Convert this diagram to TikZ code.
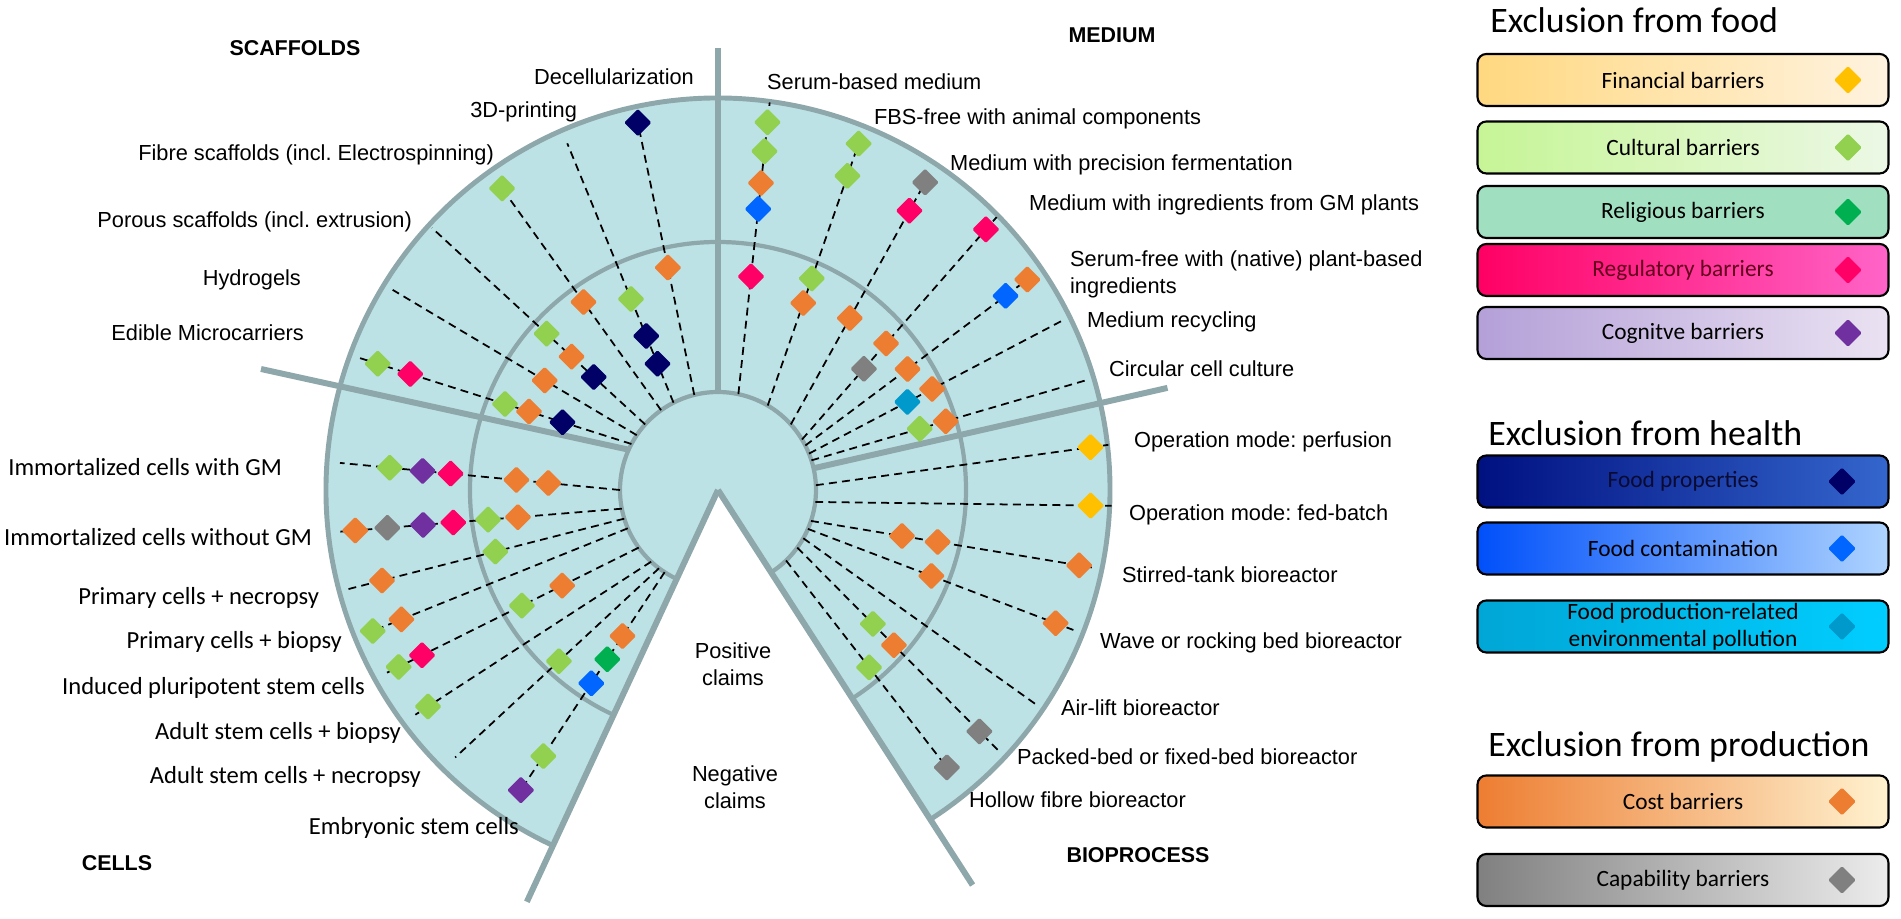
\documentclass[tikz,border=0pt]{standalone}
\usepackage{fontspec}
\setmainfont{Liberation Sans}
\newfontfamily\calibri{Carlito}
\usetikzlibrary{shapes.geometric}
\frenchspacing

\definecolor{wheelfill}{RGB}{188,226,230}
\definecolor{wheelline}{RGB}{141,167,171}
\definecolor{corange}{RGB}{237,125,49}
\definecolor{cgreen}{RGB}{146,208,80}
\definecolor{cyellow}{RGB}{255,192,0}
\definecolor{cpink}{RGB}{255,0,102}
\definecolor{cpurple}{RGB}{112,48,160}
\definecolor{cnavy}{RGB}{0,0,102}
\definecolor{cblue}{RGB}{0,102,255}
\definecolor{ccyan}{RGB}{0,153,204}
\definecolor{cgrey}{RGB}{128,128,128}
\definecolor{cdkgreen}{RGB}{0,176,80}

\tikzset{
  dia/.style={diamond, minimum size=5.6mm, inner sep=0pt, rounded corners=0.8pt},
  spoke/.style={line width=1pt, dash pattern=on 4.5pt off 3pt},
  divider/.style={wheelline, line width=3.4pt},
  ring/.style={wheelline, line width=2.4pt},
  lab/.style={font=\fontsize{12.4}{15.3}\selectfont, inner sep=1pt},
  celllab/.style={font=\calibri\fontsize{14}{17}\selectfont, inner sep=1pt, anchor=east},
  head/.style={font=\bfseries\fontsize{12.2}{15}\selectfont},
  legtitle/.style={font=\calibri\fontsize{20.4}{24}\selectfont, anchor=base west, inner sep=0pt},
  legbox/.style={draw=black, line width=1.2pt, rounded corners=5pt, minimum width=8.22cm,
    minimum height=1.04cm, font=\calibri\fontsize{13.3}{15.5}\selectfont, align=center}
}

\begin{document}
\begin{tikzpicture}[x=0.02cm, y=0.02cm]
\useasboundingbox (-718,-429) rectangle (1183,490);

% wheel
\fill[wheelfill] (0,0) circle[radius=392];
\fill[white] (0,0) -- (245.1:520) -- (302.8:520) -- cycle;
\draw[ring] (302.8:98) arc[start angle=302.8, end angle=605.1, radius=98];
\draw[ring] (302.8:248) arc[start angle=302.8, end angle=605.1, radius=248];
\draw[ring, line width=2.8pt] (302.8:392) arc[start angle=302.8, end angle=605.1, radius=392];
\draw[divider] (0,0) -- (245.1:454);
\draw[divider] (0,0) -- (302.8:470);
\draw[divider] (90:98) -- (90:442);
\draw[divider] (12.8:98) -- (12.8:461);
\draw[divider] (-88,40) -- (-457,121);

% scaffolds
\draw[spoke] (104:98) -- (102.3:382)
  node[dia, fill=corange, pos=0.458] (sc1a) {}
  node[dia, fill=cnavy, pos=0.979] (sc1b) {};
\draw[spoke] (117:98) -- (113.5:378)
  node[dia, fill=cnavy, pos=0.15] (sc2a) {}
  node[dia, fill=cnavy, pos=0.257] (sc2b) {}
  node[dia, fill=cgreen, pos=0.40] (sc2c) {};
\draw[spoke] (125.5:98) -- (125.6:380)
  node[dia, fill=corange, pos=0.472] (sc3a) {}
  node[dia, fill=cgreen, pos=0.968] (sc3b) {};
\draw[spoke] (138:98) -- (137.5:388)
  node[dia, fill=cnavy, pos=0.241] (sc4a) {}
  node[dia, fill=corange, pos=0.345] (sc4b) {}
  node[dia, fill=cgreen, pos=0.462] (sc4c) {};
\draw[spoke] (146:98) -- (148.4:382)
  node[dia, fill=corange, pos=0.377] (sc5a) {};
\draw[spoke] (152:98) -- (159.8:385)
  node[dia, fill=cnavy, pos=0.251] (sc6a) {}
  node[dia, fill=corange, pos=0.373] (sc6b) {}
  node[dia, fill=cgreen, pos=0.46] (sc6c) {}
  node[dia, fill=cpink, pos=0.805] (sc6d) {}
  node[dia, fill=cgreen, pos=0.923] (sc6e) {};

% medium
\draw[spoke] (78:98) -- (82.4:391)
  node[dia, fill=cpink, pos=0.403] (mA1) {}
  node[dia, fill=cblue, pos=0.635] (mA2) {}
  node[dia, fill=corange, pos=0.724] (mA3) {}
  node[dia, fill=cgreen, pos=0.833] (mA4) {}
  node[dia, fill=cgreen, pos=0.932] (mA5) {};
\draw[spoke] (59.5:98) -- (68:386)
  node[dia, fill=corange, pos=0.375] (mB1) {}
  node[dia, fill=cgreen, pos=0.465] (mB2) {}
  node[dia, fill=cgreen, pos=0.840] (mB3) {}
  node[dia, fill=cgreen, pos=0.958] (mB4) {};
\draw[spoke] (42:98) -- (56.2:383)
  node[dia, fill=corange, pos=0.421] (mC1) {}
  node[dia, fill=cpink, pos=0.846] (mC2) {}
  node[dia, fill=cgrey, pos=0.958] (mC3) {};
\draw[spoke] (31:98) -- (44.4:390)
  node[dia, fill=cgrey, pos=0.318] (mD1) {}
  node[dia, fill=corange, pos=0.432] (mD2) {}
  node[dia, fill=cpink, pos=0.945] (mD3) {};
\draw[spoke] (27:98) -- (34.3:385)
  node[dia, fill=corange, pos=0.443] (mE1) {}
  node[dia, fill=cblue, pos=0.868] (mE2) {}
  node[dia, fill=corange, pos=0.962] (mE3) {};
\draw[spoke] (21.8:98) -- (26.2:385)
  node[dia, fill=ccyan, pos=0.387] (mF1) {}
  node[dia, fill=corange, pos=0.484] (mF2) {};
\draw[spoke] (17.6:98) -- (16.6:386)
  node[dia, fill=cgreen, pos=0.392] (mG1) {}
  node[dia, fill=corange, pos=0.486] (mG2) {};

% bioprocess
\draw[spoke] (2.8:98) -- (6.6:393)
  node[dia, fill=cyellow, pos=0.939] (b1a) {};
\draw[spoke] (-7:98) -- (-2.3:394)
  node[dia, fill=cyellow, pos=0.929] (b2a) {};
\draw[spoke] (-18.4:98) -- (-11.7:383)
  node[dia, fill=corange, pos=0.323] (b3a) {}
  node[dia, fill=corange, pos=0.449] (b3b) {}
  node[dia, fill=corange, pos=0.951] (b3c) {};
\draw[spoke] (-23.4:98) -- (-21.5:382)
  node[dia, fill=corange, pos=0.465] (b4a) {}
  node[dia, fill=corange, pos=0.933] (b4b) {};
\draw[spoke] (-29.5:98) -- (-34:385);
\draw[spoke] (-36:98) -- (-42.9:382)
  node[dia, fill=cgreen, pos=0.377] (b6a) {}
  node[dia, fill=corange, pos=0.482] (b6b) {}
  node[dia, fill=cgrey, pos=0.908] (b6c) {};
\draw[spoke] (-46:98) -- (-50.5:365)
  node[dia, fill=cgreen, pos=0.506] (b7a) {}
  node[dia, fill=cgrey, pos=0.98] (b7b) {};

% cells
\draw[spoke] (180:98) -- (175.9:379)
  node[dia, fill=corange, pos=0.256] (c1a) {}
  node[dia, fill=corange, pos=0.370] (c1b) {}
  node[dia, fill=cpink, pos=0.605] (c1c) {}
  node[dia, fill=cpurple, pos=0.705] (c1d) {}
  node[dia, fill=cgreen, pos=0.822] (c1e) {};
\draw[spoke] (191:98) -- (186.3:380)
  node[dia, fill=corange, pos=0.369] (c2a) {}
  node[dia, fill=cgreen, pos=0.475] (c2b) {}
  node[dia, fill=cpink, pos=0.599] (c2c) {}
  node[dia, fill=cpurple, pos=0.706] (c2d) {}
  node[dia, fill=cgrey, pos=0.833] (c2e) {}
  node[dia, fill=corange, pos=0.947] (c2f) {};
\draw[spoke] (197:98) -- (195:386)
  node[dia, fill=cgreen, pos=0.462] (c3a) {}
  node[dia, fill=corange, pos=0.868] (c3b) {};
\draw[spoke] (203:98) -- (202.2:385)
  node[dia, fill=corange, pos=0.850] (c4a) {}
  node[dia, fill=cgreen, pos=0.958] (c4b) {};
\draw[spoke] (216:98) -- (208.9:378)
  node[dia, fill=corange, pos=0.304] (c5a) {}
  node[dia, fill=cgreen, pos=0.464] (c5b) {}
  node[dia, fill=cpink, pos=0.861] (c5c) {}
  node[dia, fill=cgreen, pos=0.954] (c5d) {};
\draw[spoke] (227:98) -- (216.6:377)
  node[dia, fill=cgreen, pos=0.946] (c6a) {};
\draw[spoke] (233:98) -- (225.5:375)
  node[dia, fill=cgreen, pos=0.491] (c7a) {};
\draw[spoke] (237:98) -- (236.7:368)
  node[dia, fill=corange, pos=0.283] (c8a) {}
  node[dia, fill=cdkgreen, pos=0.386] (c8b) {}
  node[dia, fill=cblue, pos=0.493] (c8c) {}
  node[dia, fill=cgreen, pos=0.816] (c8d) {}
  node[dia, fill=cpurple, pos=0.967] (c8e) {};

% section heads
\node[head] (scaffolds) at (-423,442) {SCAFFOLDS};
\node[head] (medium) at (394,455) {MEDIUM};
\node[head] (cells) at (-601,-373) {CELLS};
\node[head] (bioprocess) at (420,-365) {BIOPROCESS};
\node[lab, align=center] (positive) at (15,-174) {Positive\\claims};
\node[lab, align=center] (negative) at (17,-297) {Negative\\claims};

% scaffold labels
\node[lab, anchor=east] (decell) at (-22,413) {Decellularization};
\node[lab, anchor=east] (printing) at (-139,378) {3D-printing};
\node[lab, anchor=east] (fibre) at (-222,335) {Fibre scaffolds (incl. Electrospinning)};
\node[lab, anchor=east] (porous) at (-304,268) {Porous scaffolds (incl. extrusion)};
\node[lab, anchor=east] (hydro) at (-415,210) {Hydrogels};
\node[lab, anchor=east] (edible) at (-412,157) {Edible Microcarriers};

% medium labels
\node[lab, anchor=west] (serum) at (47,408) {Serum-based medium};
\node[lab, anchor=west] (fbsfree) at (154,371) {FBS-free with animal components};
\node[lab, anchor=west] (precision) at (230,325) {Medium with precision fermentation};
\node[lab, anchor=west] (gmplants) at (309,285) {Medium with ingredients from GM plants};
\node[lab, anchor=west, align=left] (plantbased) at (350,215.5) {Serum-free with (native) plant-based\\ingredients};
\node[lab, anchor=west] (recycling) at (367,168) {Medium recycling};
\node[lab, anchor=west] (circular) at (389,121) {Circular cell culture};

% bioprocess labels
\node[lab, anchor=west] (perfusion) at (414,48) {Operation mode: perfusion};
\node[lab, anchor=west] (fedbatch) at (409,-25) {Operation mode: fed-batch};
\node[lab, anchor=west] (stirred) at (402,-85) {Stirred-tank bioreactor};
\node[lab, anchor=west] (wave) at (380,-153) {Wave or rocking bed bioreactor};
\node[lab, anchor=west] (airlift) at (341,-218) {Air-lift bioreactor};
\node[lab, anchor=west] (packed) at (297,-267) {Packed-bed or fixed-bed bioreactor};
\node[lab, anchor=west] (hollow) at (249,-310) {Hollow fibre bioreactor};

% cell labels
\node[celllab] (immgm) at (-434,23) {Immortalized cells with GM};
\node[celllab] (immnogm) at (-404,-47) {Immortalized cells without GM};
\node[celllab] (primnec) at (-397,-108) {Primary cells + necropsy};
\node[celllab] (primbio) at (-374,-152) {Primary cells + biopsy};
\node[celllab] (ipsc) at (-351,-198) {Induced pluripotent stem cells};
\node[celllab] (adultbio) at (-315,-243) {Adult stem cells + biopsy};
\node[celllab] (adultnec) at (-295,-287) {Adult stem cells + necropsy};
\node[celllab] (embryo) at (-197,-338) {Embryonic stem cells};

% legend: food
\node[legtitle] (foodtitle) at (772,457) {Exclusion from food};
\node[legbox, left color={rgb,255:red,255;green,216;blue,128}, right color={rgb,255:red,255;green,243;blue,224}] (finbox) at (965,410) {Financial barriers};
\node[dia, fill=cyellow] (findia) at (1130,410) {};
\node[legbox, left color={rgb,255:red,198;green,245;blue,150}, right color={rgb,255:red,236;green,248;blue,230}] (cultbox) at (965,342.5) {Cultural barriers};
\node[dia, fill=cgreen] (cultdia) at (1130,342.5) {};
\node[legbox, fill={rgb,255:red,160;green,224;blue,192}] (relbox) at (965,278) {Religious barriers};
\node[dia, fill=cdkgreen] (reldia) at (1130,278) {};
\node[legbox, left color={rgb,255:red,255;green,0;blue,100}, right color={rgb,255:red,255;green,100;blue,200}, text={rgb,255:red,100;green,0;blue,30}] (regbox) at (965,220) {Regulatory barriers};
\node[dia, fill=cpink] (regdia) at (1130,220) {};
\node[legbox, left color={rgb,255:red,180;green,160;blue,216}, right color={rgb,255:red,234;green,226;blue,242}] (cogbox) at (965,157) {Cognitve barriers};
\node[dia, fill=cpurple] (cogdia) at (1130,157) {};

% legend: health
\node[legtitle] (healthtitle) at (770,44) {Exclusion from health};
\node[legbox, left color={rgb,255:red,0;green,16;blue,128}, right color={rgb,255:red,52;green,102;blue,205}, text={rgb,255:red,10;green,10;blue,50}] (propbox) at (965,8.5) {Food properties};
\node[dia, fill=cnavy] (propdia) at (1124,8.5) {};
\node[legbox, left color={rgb,255:red,0;green,80;blue,250}, middle color={rgb,255:red,25;green,105;blue,255}, right color={rgb,255:red,175;green,212;blue,255}] (contbox) at (965,-58.5) {Food contamination};
\node[dia, fill=cblue] (contdia) at (1124,-58.5) {};
\node[legbox, inner ysep=0pt, left color={rgb,255:red,0;green,166;blue,214}, right color={rgb,255:red,0;green,206;blue,255}] (pollbox) at (965,-136.5) {Food production-related\\environmental pollution};
\node[dia, fill=ccyan] (polldia) at (1124,-136.5) {};

% legend: production
\node[legtitle] (prodtitle) at (770,-267) {Exclusion from production};
\node[legbox, left color=corange, right color={rgb,255:red,255;green,242;blue,208}] (costbox) at (965,-311.5) {Cost barriers};
\node[dia, fill=corange] (costdia) at (1124,-311.5) {};
\node[legbox, left color=cgrey, right color={rgb,255:red,236;green,236;blue,236}] (capbox) at (965,-390) {Capability barriers};
\node[dia, fill=cgrey] (capdia) at (1124,-390) {};
\end{tikzpicture}
\end{document}
